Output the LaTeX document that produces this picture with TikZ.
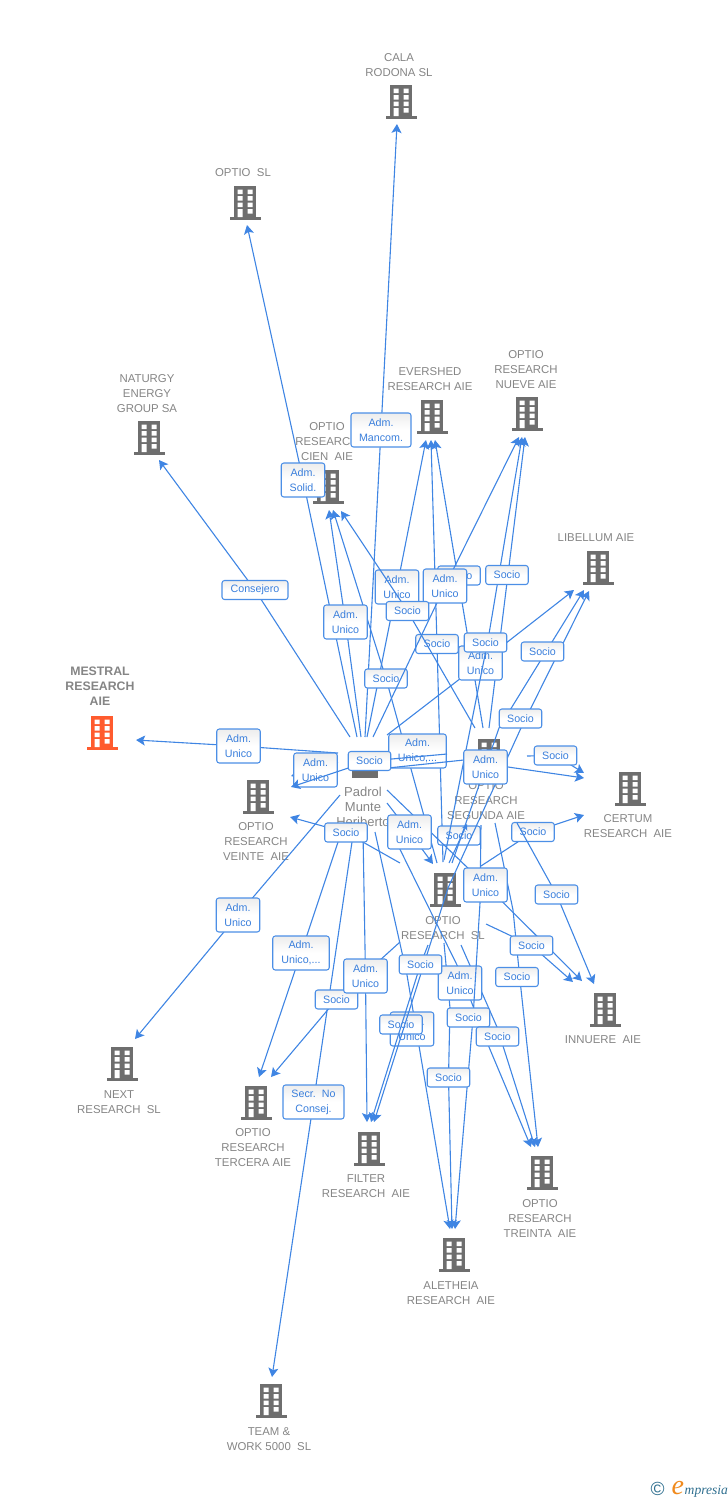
\documentclass[tikz,border=0pt]{standalone}
\usepackage{fontspec}
\setmainfont{Liberation Sans}
\newfontfamily\logofont{Liberation Serif}
\usetikzlibrary{arrows.meta}
\definecolor{linkblue}{HTML}{3F85E3}
\definecolor{boxblue}{HTML}{4C8FE6}
\definecolor{labtext}{HTML}{3A7FDC}
\definecolor{enttext}{HTML}{858585}
\definecolor{icongray}{HTML}{6E6E6E}
\definecolor{iconorange}{HTML}{FF5B2E}
\definecolor{logoteal}{HTML}{2F6F8F}
\definecolor{logoorange}{HTML}{F08A1D}
\pgfdeclarelayer{links1}\pgfdeclarelayer{labels1}\pgfdeclarelayer{links2}\pgfdeclarelayer{labels2}
\pgfsetlayers{main,links1,labels1,links2,labels2}
\tikzset{
  bldg/.pic={
    \fill[pic actions] (-11,-17) rectangle (11,14);
    \fill[pic actions] (-15.5,14) rectangle (15.5,17);
    \fill[white] (-7.5,-13.5) rectangle (-2.5,-9) (2.5,-13.5) rectangle (7.5,-9)
                 (-7.5,-7) rectangle (-2.5,-2.5) (2.5,-7) rectangle (7.5,-2.5)
                 (-7.5,-0.5) rectangle (-2.5,4) (2.5,-0.5) rectangle (7.5,4)
                 (-7.5,6) rectangle (-2.5,14) (2.5,6) rectangle (7.5,10.5);
  },
  icon/.style={minimum width=31pt,minimum height=34pt,inner sep=0pt},
  etext/.style={align=center,inner sep=0pt,yshift=-0.8pt,text=enttext,font=\fontsize{11.4}{15}\selectfont},
  mtext/.style={align=center,inner sep=0pt,text=enttext,font=\fontsize{12.3}{15}\selectfont\bfseries},
  ptext/.style={align=center,inner sep=0pt,text=enttext,font=\fontsize{13}{15}\selectfont},
  lab/.style={draw=boxblue,line width=1.05pt,rounded corners=2.5pt,top color=black!7,bottom color=white,middle color=white,
    text=labtext,align=center,inner sep=0pt,font=\fontsize{10.7}{15}\selectfont},
  socio/.style={lab,minimum width=42.5pt,minimum height=19pt},
  admu/.style={lab,minimum width=43.5pt,minimum height=34pt},
  link/.style={draw=linkblue,line width=1.1pt,-{Stealth[length=9pt,width=10pt,inset=2pt]}},
}
\begin{document}
\begin{tikzpicture}[x=1pt,y=-1pt]
\useasboundingbox (0,0) rectangle (728,1500);
% ---------- entities
\node[icon] (cala) at (401,102) {}; \pic[fill=icongray] at (cala) {bldg};
\node[etext] (calaT) at (399,64.5) {CALA\\RODONA SL};
\node[icon] (optiosl) at (245,203) {}; \pic[fill=icongray] at (optiosl) {bldg};
\node[etext] (optioslT) at (243,172) {OPTIO\ \ SL};
\node[icon] (naturgy) at (149,438) {}; \pic[fill=icongray] at (naturgy) {bldg};
\node[etext] (naturgyT) at (147,392.5) {NATURGY\\ENERGY\\GROUP SA};
\node[icon] (evershed) at (432,417) {}; \pic[fill=icongray] at (evershed) {bldg};
\node[etext] (eversherT) at (430,378.5) {EVERSHED\\RESEARCH AIE};
\node[icon] (nueve) at (527,414) {}; \pic[fill=icongray] at (nueve) {bldg};
\node[etext] (nueveT) at (526,369) {OPTIO\\RESEARCH\\NUEVE AIE};
\node[icon] (cien) at (328,487) {}; \pic[fill=icongray] at (cien) {bldg};
\node[etext] (cienT) at (327,441) {OPTIO\\RESEARCH\\CIEN\ \ AIE};
\node[icon] (libellum) at (598,568) {}; \pic[fill=icongray] at (libellum) {bldg};
\node[etext] (libellumT) at (596,537) {LIBELLUM AIE};
\node[icon] (mestral) at (102,733) {}; \pic[fill=iconorange] at (mestral) {bldg};
\node[mtext] (mestralT) at (100,686) {MESTRAL\\RESEARCH\\AIE};
\node[icon] (veinte) at (258,797) {}; \pic[fill=icongray] at (veinte) {bldg};
\node[etext] (veinteT) at (256,841) {OPTIO\\RESEARCH\\VEINTE\ \ AIE};
\node[icon] (segunda) at (489,756) {}; \pic[fill=icongray] at (segunda) {bldg};
\node[etext] (segundaT) at (486,800) {OPTIO\\RESEARCH\\SEGUNDA AIE};
\node[icon] (certum) at (630,789) {}; \pic[fill=icongray] at (certum) {bldg};
\node[etext] (certumT) at (628,825.5) {CERTUM\\RESEARCH\ \ AIE};
\node[icon] (rsl) at (445,890) {}; \pic[fill=icongray] at (rsl) {bldg};
\node[etext] (rslT) at (443,927.5) {OPTIO\\RESEARCH\ \ SL};
\node[icon] (innuere) at (605,1010) {}; \pic[fill=icongray] at (innuere) {bldg};
\node[etext] (innuereT) at (603,1039) {INNUERE\ \ AIE};
\node[icon] (next) at (122,1064) {}; \pic[fill=icongray] at (next) {bldg};
\node[etext] (nextT) at (119,1101.5) {NEXT\\RESEARCH\ \ SL};
\node[icon] (tercera) at (256,1103) {}; \pic[fill=icongray] at (tercera) {bldg};
\node[etext] (terceraT) at (253,1147) {OPTIO\\RESEARCH\\TERCERA AIE};
\node[icon] (filter) at (369,1149) {}; \pic[fill=icongray] at (filter) {bldg};
\node[etext] (filterT) at (366,1185.5) {FILTER\\RESEARCH\ \ AIE};
\node[icon] (treinta) at (542,1173) {}; \pic[fill=icongray] at (treinta) {bldg};
\node[etext] (treintaT) at (540,1218) {OPTIO\\RESEARCH\\TREINTA\ \ AIE};
\node[icon] (aletheia) at (454,1255) {}; \pic[fill=icongray] at (aletheia) {bldg};
\node[etext] (aletheiaT) at (451,1292.5) {ALETHEIA\\RESEARCH\ \ AIE};
\node[icon] (team) at (271,1401) {}; \pic[fill=icongray] at (team) {bldg};
\node[etext] (teamT) at (269,1438.5) {TEAM \&\\WORK 5000\ \ SL};
% person
\node[minimum width=26pt,minimum height=26pt,inner sep=0pt,fill=icongray] (person) at (365,765) {};
\node[ptext] (personT) at (363,807) {Padrol\\Munte\\Heriberto};
% logo
\node[inner sep=0pt,text=logoteal,font=\fontsize{19}{19}\selectfont] (logoC) at (657.5,1488.5) {©};
\node[inner sep=0pt,anchor=base west,text=logoorange,font=\logofont\itshape\fontsize{28}{28}\selectfont] (logoE) at (671.5,1494) {e};
\node[inner sep=0pt,anchor=base west,text=logoteal,font=\logofont\itshape\fontsize{13.6}{15}\selectfont] (logoM) at (684.5,1494) {mpresia};
% ---------- lower labels
\begin{pgfonlayer}{labels1}
\node[admu] (a397) at (397,587) {Adm.\\Unico};
\node[socio] (s437) at (437,644) {Socio};
\node[socio] (s384) at (386,678.5) {Socio};
\node[socio] (s459) at (459,575.5) {Socio};
\node[admu,minimum width=57.5pt] (a418) at (417.5,751) {Adm.\\Unico,...};
\node[admu] (a315) at (315.5,770) {Adm.\\Unico};
\node[socio] (s458) at (459,835.5) {Socio};
\node[socio] (s533) at (533,832) {Socio};
\node[admu] (a459) at (460,983) {Adm.\\Unico};
\node[admu] (a412) at (412,1029) {Adm.\\Unico};
\node[socio] (s401) at (401,1024.5) {Socio};
\node[admu] (a480) at (480.5,663) {Adm.\\Unico};
\end{pgfonlayer}
% ---------- upper labels
\begin{pgfonlayer}{labels2}
\node[socio,minimum width=66pt] (cons) at (255,590) {Consejero};
\node[admu,minimum width=60pt] (manc) at (381,430) {Adm.\\Mancom.};
\node[admu] (solid) at (303,480) {Adm.\\Solid.};
\node[admu] (a345) at (345.5,622) {Adm.\\Unico};
\node[admu] (a445) at (445,586) {Adm.\\Unico};
\node[socio] (s507) at (507,575) {Socio};
\node[socio] (s408) at (407.5,611) {Socio};
\node[socio] (s485) at (485.5,642.5) {Socio};
\node[socio] (s542) at (542.5,651.5) {Socio};
\node[admu] (a238) at (238.5,746) {Adm.\\Unico};
\node[socio] (s369) at (369.5,761) {Socio};
\node[admu] (a485) at (485.5,767) {Adm.\\Unico};
\node[socio] (s520) at (520.5,718.5) {Socio};
\node[socio] (s555) at (555.5,755.5) {Socio};
\node[socio] (s346) at (346,832.5) {Socio};
\node[admu] (a409) at (409.5,832) {Adm.\\Unico};
\node[admu] (a485b) at (485.5,885) {Adm.\\Unico};
\node[socio] (s556) at (556.5,894.5) {Socio};
\node[admu] (a238b) at (238,915) {Adm.\\Unico};
\node[admu,minimum width=56.5pt] (a301) at (301,953) {Adm.\\Unico,...};
\node[socio] (s336) at (336.5,999.5) {Socio};
\node[admu] (a365) at (365.5,976) {Adm.\\Unico};
\node[socio] (s420) at (420.5,964.5) {Socio};
\node[socio] (s531) at (531.5,945.5) {Socio};
\node[socio] (s517) at (517,977) {Socio};
\node[socio] (s467) at (468.5,1017.5) {Socio};
\node[socio] (s497) at (497.5,1036.5) {Socio};
\node[socio] (s448) at (448.5,1077.5) {Socio};
\node[admu,minimum width=61pt] (secr) at (313.5,1102) {Secr.\ \ No\\Consej.};
\end{pgfonlayer}
% ---------- free ends: starts
\coordinate (pA) at (350,737); \coordinate (pB) at (357,737); \coordinate (pC) at (361,737);
\coordinate (pD) at (365,737); \coordinate (pE) at (367,737); \coordinate (pF) at (373,737);
\coordinate (pG) at (387,735); \coordinate (pI) at (338,842); \coordinate (pJ) at (352,842);
\coordinate (pK) at (363,832); \coordinate (pL) at (375,832); \coordinate (pM) at (387,823);
\coordinate (pN) at (387,790); \coordinate (pO) at (388,768); \coordinate (pP) at (338,753);
\coordinate (pQ) at (338,762); \coordinate (pR) at (340,795); \coordinate (pS) at (387,803);
\coordinate (sgA) at (483,728); \coordinate (sgB) at (489,728); \coordinate (sgC) at (475,728);
\coordinate (sgD) at (481,825); \coordinate (sgE) at (495,823); \coordinate (sgF) at (517,823);
\coordinate (sgG) at (527,756); \coordinate (sgH) at (447,754);
\coordinate (slA) at (443,862); \coordinate (slC) at (437,863); \coordinate (slD) at (444,860);
\coordinate (slE) at (452,863); \coordinate (slF) at (428,945); \coordinate (slG) at (400,942);
\coordinate (slH) at (444,943); \coordinate (slI) at (461,945); \coordinate (slJ) at (486,924);
\coordinate (slK) at (481,866); \coordinate (slL) at (400,863); \coordinate (slM) at (449,863);
% ---------- free ends: tips
\coordinate (tNat) at (159,460); \coordinate (tOs) at (247,225); \coordinate (tC1) at (329,510);
\coordinate (tC2) at (333,510); \coordinate (tC3) at (341,511); \coordinate (tCala) at (397,124);
\coordinate (tEv1) at (426,440); \coordinate (tEv2) at (431,440); \coordinate (tEv3) at (435,440);
\coordinate (tNu1) at (519,437); \coordinate (tNu2) at (525,437); \coordinate (tNu3) at (522,437);
\coordinate (tLi1) at (574,590); \coordinate (tLi2) at (584,590); \coordinate (tLi3) at (589,591);
\coordinate (tFil0) at (367,1122); \coordinate (tFil1) at (371,1122); \coordinate (tFil2) at (374,1122);
\coordinate (tTe1) at (259,1077); \coordinate (tTe2) at (271,1077); \coordinate (tTeam) at (272,1377);
\coordinate (tAl1) at (450,1229); \coordinate (tAl2) at (452,1229); \coordinate (tAl3) at (455,1229);
\coordinate (tTr1) at (531,1147); \coordinate (tTr2) at (535,1147); \coordinate (tTr3) at (538,1147);
\coordinate (tIn1) at (573,982); \coordinate (tIn2) at (582,981); \coordinate (tIn3) at (594,984);
\coordinate (tCe1) at (584,773); \coordinate (tCe2) at (584,778); \coordinate (tCe3) at (584,815);
\coordinate (tMe) at (136,740); \coordinate (tV1) at (291,776); \coordinate (tV2) at (291,787);
\coordinate (tV3) at (290,817); \coordinate (tNext) at (135,1039); \coordinate (tSl) at (433,864);
\coordinate (tSeg) at (467,824);
% ---------- bends
\coordinate (b1) at (488,640); \coordinate (b2) at (499,728); \coordinate (b3) at (521,728);
\coordinate (b4) at (448,888); \coordinate (b5) at (407,975); \coordinate (b6) at (450,1008);
\coordinate (b7) at (480,903); \coordinate (b8) at (473,1018); \coordinate (b9) at (457,965);
\coordinate (b10) at (489,1047); \coordinate (b11) at (497,1027); \coordinate (b12) at (513,910);
\coordinate (b13) at (520,980); \coordinate (b14) at (464,760); \coordinate (b15) at (508,767);
% ---------- connectors under the lower labels
\begin{pgfonlayer}{links1}
\draw[link] (pA) -- (cons.center) -- (tNat);
\draw[link] (pB) -- (solid.center) -- (tOs);
\draw[link] (pC) -- (a345.center) -- (tC1);
\draw[link] (pD) -- (manc.center) -- (tCala);
\draw[link] (pE) -- (a397.center) -- (tEv1);
\draw[link] (pG) -- (a480.center) -- (tLi1);
\draw[link] (slA) -- (s437.center) -- (tEv2);
\draw[link] (sgA) -- (tEv3);
\draw[link] (sgB) -- (tNu2);
\draw[link] (slC) -- (s384.center) -- (tC2);
\draw[link] (pK) -- (a365.center) -- (tFil0);
\draw[link] (slG) -- (s336.center) -- (tTe2);
\draw[link] (pI) -- (a301.center) -- (tTe1);
\draw[link] (pJ) -- (secr.center) -- (tTeam);
\draw[link] (pL) -- (b5) -- (tAl1);
\draw[link] (slH) -- (b6) -- (s448.center) -- (tAl2);
\draw[link] (pM) -- (b9) -- (b10) -- (tTr1);
\draw[link] (slI) -- (b11) -- (tTr2);
\draw[link] (sgE) -- (b12) -- (b13) -- (tTr3);
\draw[link] (slJ) -- (s531.center) -- (tIn1);
\draw[link] (sgG) -- (s555.center) -- (tCe1);
\draw[link] (slK) -- (s533.center) -- (tCe3);
\draw[link] (pP) -- (a238.center) -- (tMe);
\draw[link] (pQ) -- (a315.center) -- (tV1);
\draw[link] (slL) -- (s346.center) -- (tV3);
\draw[link] (pR) -- (a238b.center) -- (tNext);
\draw[link] (pS) -- (a409.center) -- (tSl);
\end{pgfonlayer}
% ---------- connectors over the lower labels
\begin{pgfonlayer}{links2}
\draw[link] (pF) -- (a445.center) -- (tNu1);
\draw[link] (sgC) -- (s408.center) -- (tC3);
\draw[link] (slD) -- (b1) -- (tNu3);
\draw[link] (slE) -- (b2) -- (tLi2);
\draw[link] (b4) -- (b3) -- (tLi3);
\draw[link] (b4) -- (tFil2);
\draw[link] (slF) -- (s420.center) -- (tFil1);
\draw[link] (pN) -- (a485b.center) -- (tIn2);
\draw[link] (sgF) -- (s556.center) -- (tIn3);
\draw[link] (pO) -- (b14) -- (b15) -- (tCe2);
\draw[link] (sgH) -- (s369.center) -- (tV2);
\draw[link] (sgD) -- (b7) -- (b8) -- (tAl3);
\draw[link,-{Stealth[length=6pt,width=6pt,inset=1.5pt]}] (slM) -- (tSeg);
\end{pgfonlayer}
\end{tikzpicture}
\end{document}
